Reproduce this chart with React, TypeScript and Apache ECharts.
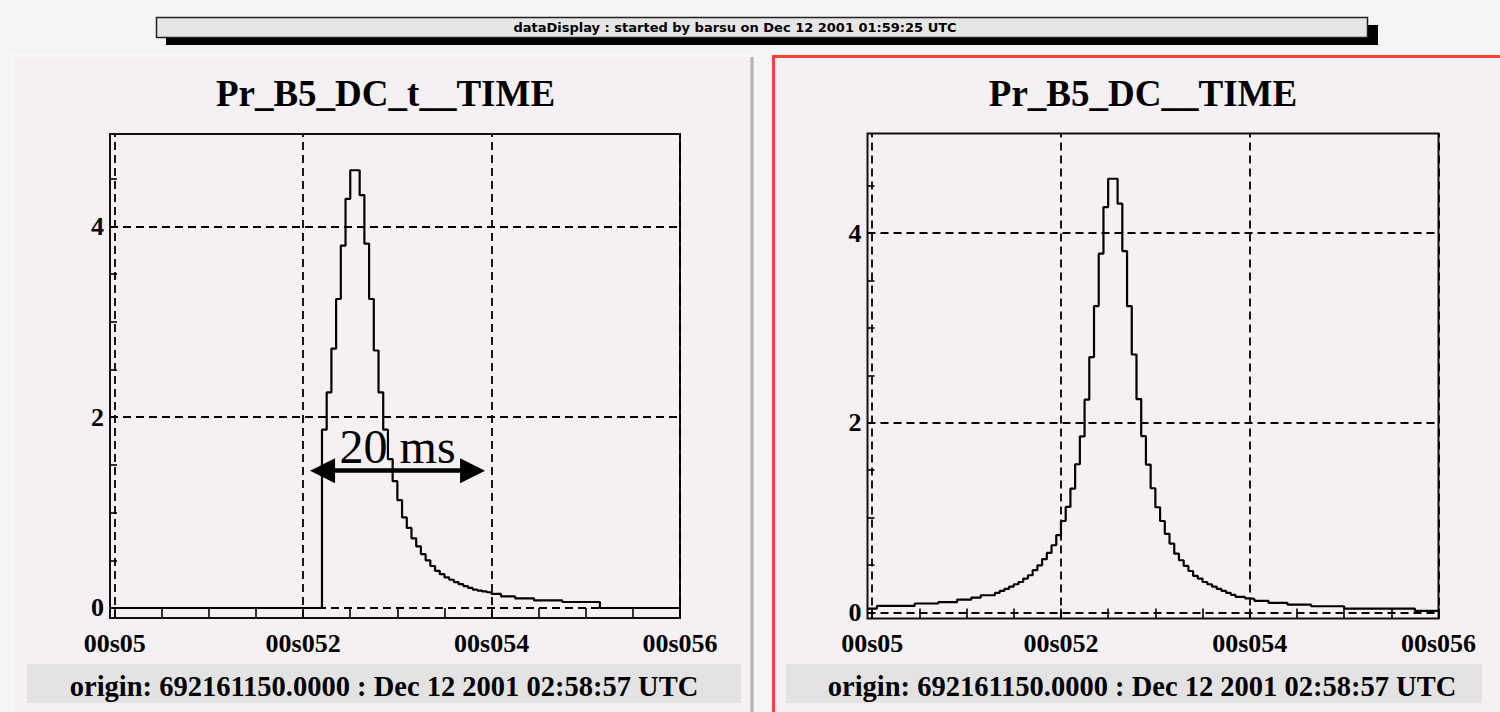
import React, { useEffect, useRef } from "react";
import * as echarts from "echarts";

// ---------- data ----------
const binStart = 49.95;
const binWidth = 0.05;

// Pr_B5_DC_t__TIME : bin contents, bins of 0.05 starting at 49.95
const leftCounts = [
  0, 0, 0, 0, 0, 0, 0, 0, 0, 0,
  0, 0, 0, 0, 0, 0, 0, 0, 0, 0,
  0, 0, 0, 0, 0, 0, 0, 0, 0, 0,
  0, 0, 0, 0, 0, 0, 0, 0, 0, 0,
  0, 0, 0, 0, 0, 1.87, 2.26, 2.72, 3.24, 3.8,
  4.29, 4.59, 4.59, 4.33, 3.82, 3.24, 2.7, 2.26, 1.87, 1.56,
  1.33, 1.13, 0.95, 0.84, 0.73, 0.645, 0.565, 0.5, 0.44, 0.39,
  0.355, 0.322, 0.296, 0.272, 0.25, 0.23, 0.21, 0.193, 0.183, 0.174,
  0.165, 0.147, 0.147, 0.122, 0.122, 0.122, 0.101, 0.101, 0.101, 0.101,
  0.08, 0.08, 0.08, 0.08, 0.08, 0.08, 0.063, 0.063, 0.063, 0.063,
  0.063, 0.063, 0.063, 0.063, 0, 0, 0, 0, 0, 0,
  0, 0, 0, 0, 0, 0, 0, 0, 0, 0,
  0,
];

// Pr_B5_DC__TIME : bin contents, bins of 0.05 starting at 49.95
const rightCounts = [
  0.042, 0.042, 0.07, 0.07, 0.07, 0.07, 0.07, 0.07, 0.07, 0.07,
  0.095, 0.095, 0.095, 0.095, 0.095, 0.11, 0.11, 0.11, 0.11, 0.137,
  0.137, 0.137, 0.158, 0.158, 0.182, 0.182, 0.182, 0.207, 0.228, 0.249,
  0.274, 0.298, 0.322, 0.358, 0.393, 0.446, 0.498, 0.562, 0.628, 0.709,
  0.815, 0.965, 1.113, 1.307, 1.563, 1.858, 2.244, 2.693, 3.231, 3.783,
  4.274, 4.573, 4.573, 4.31, 3.81, 3.23, 2.72, 2.25, 1.86, 1.56,
  1.31, 1.11, 0.965, 0.83, 0.727, 0.62, 0.551, 0.491, 0.438, 0.386,
  0.358, 0.322, 0.298, 0.274, 0.249, 0.228, 0.207, 0.186, 0.164, 0.164,
  0.15, 0.143, 0.122, 0.122, 0.122, 0.101, 0.101, 0.101, 0.101, 0.084,
  0.084, 0.084, 0.084, 0.084, 0.066, 0.066, 0.066, 0.066, 0.066, 0.066,
  0.066, 0.042, 0.042, 0.042, 0.042, 0.042, 0.042, 0.042, 0.042, 0.042,
  0.042, 0.042, 0.042, 0.042, 0.042, 0.042, 0.017, 0.017, 0.017, 0.017,
  0.017,
];

const xTickValues = [50, 52, 54, 56];
const xTickLabels = ["00s05", "00s052", "00s054", "00s056"];
const xMinorTicks = [50, 50.5, 51, 51.5, 52, 52.5, 53, 53.5, 54, 54.5, 55, 55.5, 56];
const yTickValues = [0, 2, 4];
const yMinorTicks = [0, 0.5, 1, 1.5, 2, 2.5, 3, 3.5, 4, 4.5];

const titles = ["Pr_B5_DC_t__TIME", "Pr_B5_DC__TIME"];
const bannerText = "dataDisplay : started by barsu on Dec 12 2001 01:59:25 UTC";
const originText = "origin: 692161150.0000 : Dec 12 2001 02:58:57 UTC";
const arrowSpan = [52.206, 53.798];
const arrowLevel = 1.44;
const arrowLabel = "20 ms";

// ---------- helpers ----------
const SERIF = '"Liberation Serif", "Times New Roman", serif';

function stepData(counts: number[]) {
  const pts = counts.map((v, i) => [+(binStart + i * binWidth).toFixed(3), v]);
  pts.push([+(binStart + counts.length * binWidth).toFixed(3), counts[counts.length - 1]]);
  return pts;
}

function xLabel(v: number) {
  const i = xTickValues.findIndex((t) => Math.abs(t - v) < 1e-6);
  return i >= 0 ? xTickLabels[i] : "";
}

const yRanges = [
  [-0.105, 4.97],
  [-0.063, 5.05],
];

function makeXAxis(gi: number) {
  return {
    type: "value",
    gridIndex: gi,
    min: 49.95,
    max: 56,
    axisLine: { show: false, onZero: false },
    splitLine: { show: false },
    axisTick: {
      show: true,
      inside: true,
      length: 10,
      customValues: xMinorTicks,
      lineStyle: { color: "#000", width: 1.6 },
    },
    axisLabel: {
      customValues: xTickValues,
      formatter: (v: number) => xLabel(v),
      fontFamily: SERIF,
      fontWeight: "bold",
      fontSize: 26,
      color: "#000",
      margin: 12,
    },
  };
}

function makeYAxis(gi: number) {
  return {
    type: "value",
    gridIndex: gi,
    min: yRanges[gi][0],
    max: yRanges[gi][1],
    axisLine: { show: false },
    splitLine: { show: false },
    axisTick: {
      show: true,
      inside: true,
      length: 7,
      customValues: yMinorTicks,
      lineStyle: { color: "#000", width: 1.6 },
    },
    axisLabel: {
      customValues: yTickValues,
      formatter: (v: number) => String(Math.round(v)),
      fontFamily: SERIF,
      fontWeight: "bold",
      fontSize: 26,
      color: "#000",
      margin: 6,
    },
  };
}

function gridLinesSeries(gi: number) {
  return {
    type: "line",
    xAxisIndex: gi,
    yAxisIndex: gi,
    data: [],
    silent: true,
    z: 1,
    markLine: {
      silent: true,
      symbol: "none",
      label: { show: false },
      lineStyle: { color: "#000", width: 1.8, type: [8, 5] },
      data: [
        ...xTickValues.map((v) => ({ xAxis: v })),
        ...yTickValues.map((v) => ({ yAxis: v })),
      ],
    },
  };
}

function histSeries(gi: number, counts: number[], withArrow: boolean) {
  const s: any = {
    type: "line",
    xAxisIndex: gi,
    yAxisIndex: gi,
    data: stepData(counts),
    step: "end",
    symbol: "none",
    silent: true,
    z: 3,
    lineStyle: { color: "#000", width: 2.2 },
  };
  if (withArrow) {
    s.markLine = {
      silent: true,
      symbol: ["triangle", "triangle"],
      symbolSize: [25, 25],
      lineStyle: { color: "#000", width: 4.5, type: "solid" },
      label: {
        show: true,
        position: "middle",
        formatter: arrowLabel,
        fontFamily: SERIF,
        fontSize: 48,
        color: "#000",
        distance: 0,
      },
      data: [[{ coord: [arrowSpan[0], arrowLevel] }, { coord: [arrowSpan[1], arrowLevel] }]],
    };
  }
  return s;
}

function txt(text: string, x: number, y: number, font: string, z = 10) {
  return {
    type: "text",
    z,
    x,
    y,
    style: {
      text,
      font,
      fill: "#000",
      align: "center",
      verticalAlign: "middle",
      textAlign: "center",
      textVerticalAlign: "middle",
    },
  };
}

const option: any = {
  animation: false,
  backgroundColor: "#f7f4f7",
  grid: [
    { left: 110, top: 134, width: 570, height: 484, show: true, borderColor: "#111", borderWidth: 2, backgroundColor: "transparent" },
    { left: 867.5, top: 133.5, width: 571, height: 485, show: true, borderColor: "#111", borderWidth: 2, backgroundColor: "transparent" },
  ],
  xAxis: [makeXAxis(0), makeXAxis(1)],
  yAxis: [makeYAxis(0), makeYAxis(1)],
  series: [
    gridLinesSeries(0),
    gridLinesSeries(1),
    histSeries(0, leftCounts, true),
    histSeries(1, rightCounts, false),
  ],
  graphic: [
    // panels
    { type: "rect", z: -5, shape: { x: 12, y: 55, width: 741, height: 660 }, style: { fill: "#f4f0f4" } },
    { type: "line", z: -4, shape: { x1: 12, y1: 55.5, x2: 753, y2: 55.5 }, style: { stroke: "#fcfbfc", lineWidth: 2 } },
    { type: "line", z: -4, shape: { x1: 12.5, y1: 55, x2: 12.5, y2: 712 }, style: { stroke: "#fcfbfc", lineWidth: 2 } },
    { type: "line", z: -4, shape: { x1: 752, y1: 57, x2: 752, y2: 712 }, style: { stroke: "#b0b0b0", lineWidth: 3 } },
    { type: "rect", z: -5, shape: { x: 773.5, y: 56.5, width: 760, height: 700 }, style: { fill: "#f4f0f4", stroke: "#ff3b3b", lineWidth: 3 } },
    // banner
    { type: "rect", z: -3, shape: { x: 166, y: 25, width: 1212, height: 20 }, style: { fill: "#000" } },
    { type: "rect", z: -2, shape: { x: 156.5, y: 17.5, width: 1211, height: 20 }, style: { fill: "#e6e6e6", stroke: "#222", lineWidth: 1.5 } },
    txt(bannerText, 735, 27.5, 'bold 13px "DejaVu Sans", sans-serif'),
    // titles
    txt(titles[0], 385.5, 93, `bold 37px ${SERIF}`),
    txt(titles[1], 1143, 93, `bold 37px ${SERIF}`),
    // origin bands
    { type: "rect", z: -3, shape: { x: 27, y: 664, width: 714, height: 39 }, style: { fill: "#e3e3e3" } },
    { type: "rect", z: -3, shape: { x: 786, y: 664, width: 696, height: 39 }, style: { fill: "#e3e3e3" } },
    txt(originText, 384, 686, `bold 28.5px ${SERIF}`),
    txt(originText, 1142, 686, `bold 28.5px ${SERIF}`),
  ],
};

export default function App() {
  const ref = useRef<HTMLDivElement>(null);
  useEffect(() => {
    const chart = echarts.init(ref.current as HTMLDivElement, null, { renderer: "svg" });
    chart.setOption(option);
    return () => chart.dispose();
  }, []);
  return (
    <div
      ref={ref}
      style={{ position: "absolute", left: 0, top: 0, width: 1500, height: 712 }}
    />
  );
}
